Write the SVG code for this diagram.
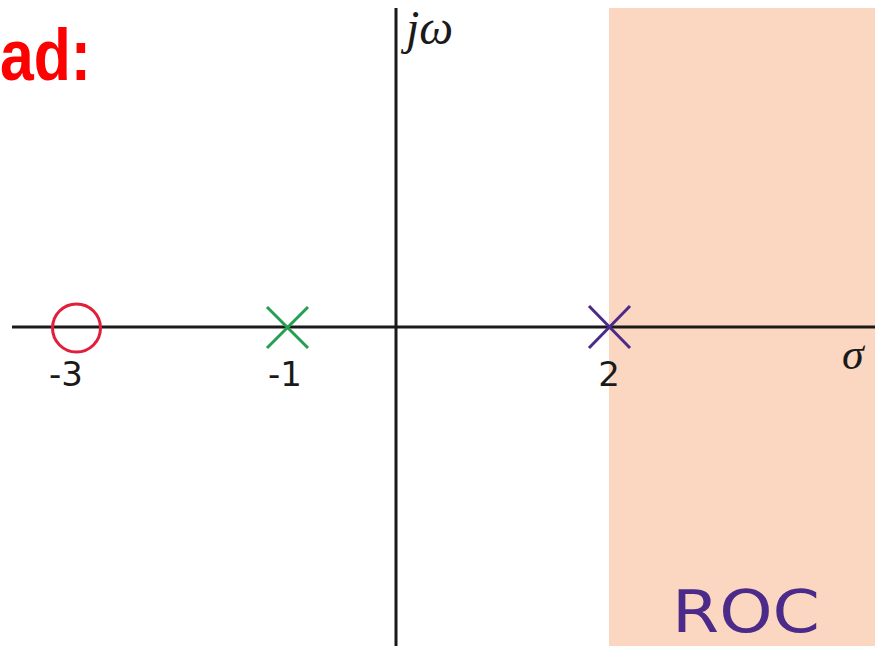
<svg xmlns="http://www.w3.org/2000/svg" width="875" height="646" viewBox="0 0 875 646">
<style>
.axis{stroke:#1a1a1a;stroke-width:3;fill:none}
.num{font-family:"DejaVu Sans",sans-serif;font-size:34px;fill:#1a1a1a;text-anchor:middle}
.math{font-family:"Liberation Serif","DejaVu Serif",serif;font-style:italic;fill:#1a1a1a}
</style>
<rect id="roc-region" x="609" y="8" width="266" height="638" fill="#fbd7c1"/>
<g id="axes">
<line class="axis" x1="12" y1="327" x2="875" y2="327"/>
<line class="axis" x1="396" y1="8" x2="396" y2="646"/>
</g>
<g id="zero-m3">
<circle cx="76.5" cy="328" r="24" fill="none" stroke="#e0203a" stroke-width="3"/>
<text class="num" x="66" y="386">-3</text>
</g>
<g id="pole-m1">
<path d="M267 307 L308 348 M308 307 L267 348" stroke="#22a050" stroke-width="3"/>
<text class="num" x="285" y="386">-1</text>
</g>
<g id="pole-2">
<path d="M589 306 L630 348 M630 306 L589 348" stroke="#4b2a8a" stroke-width="3"/>
<text class="num" x="609" y="386">2</text>
</g>
<text class="math" x="406" y="44" font-size="48">jω</text>
<text class="math" x="842" y="369" font-size="44">σ</text>
<text x="672" y="632" font-family="DejaVu Sans,sans-serif" font-size="58" fill="#4b2a8a" textLength="148" lengthAdjust="spacingAndGlyphs">ROC</text>
<text x="0" y="80" font-family="Liberation Sans,sans-serif" font-weight="bold" font-size="72" fill="#ff0000" textLength="91" lengthAdjust="spacingAndGlyphs">ad:</text>
</svg>
